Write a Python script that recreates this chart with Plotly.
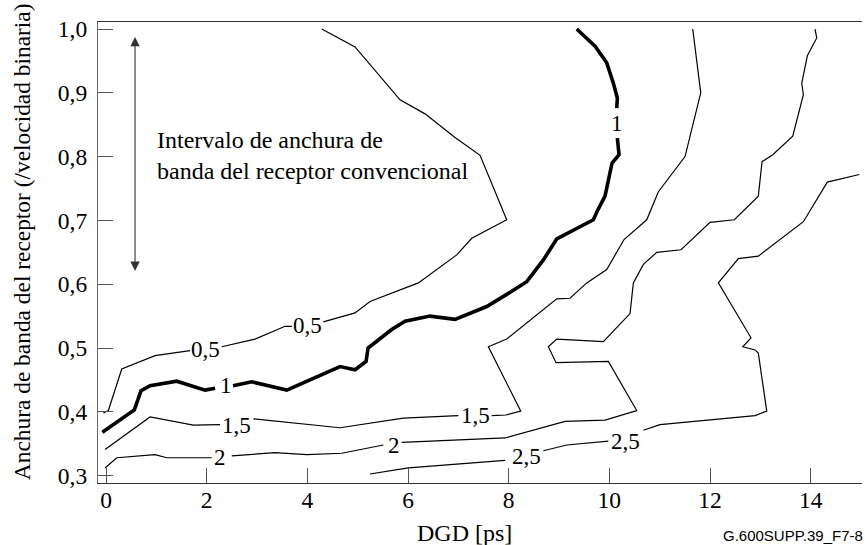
import plotly.graph_objects as go

# Contour lines (DGD [ps], receiver bandwidth); None = gap where the label sits
c05_x = [-0.054, 0.046, 0.312, 0.974, 1.669, None, 2.299, 2.960, 3.557, 3.696, None, 4.317, 4.947, 5.245, 6.205, 6.968, 7.266, 7.961, 7.431, 6.934, 6.338, 5.841, 4.947, 4.286]
c05_y = [0.398, 0.402, 0.467, 0.488, 0.496, None, 0.502, 0.514, 0.534, 0.534, None, 0.541, 0.555, 0.573, 0.602, 0.646, 0.672, 0.701, 0.802, 0.830, 0.867, 0.889, 0.972, 1.0]

c1_x = [-0.074, 0.562, 0.695, 0.874, 1.405, 1.967, 2.166, None, 2.523, 2.895, 3.590, 4.649, 4.947, 5.166, 5.206, 5.676, 5.941, 6.437, 6.934, 7.564, 7.961, 8.359, 8.689, 8.955, 9.682, 9.756, 9.914, 10.054, 10.193, 10.159, None, 10.147, 10.159, 10.080, 9.948, 9.716, 9.352]
c1_y = [0.368, 0.403, 0.433, 0.441, 0.448, 0.434, 0.437, None, 0.441, 0.447, 0.434, 0.471, 0.466, 0.479, 0.500, 0.529, 0.542, 0.550, 0.545, 0.565, 0.584, 0.604, 0.638, 0.671, 0.701, 0.714, 0.738, 0.790, 0.803, 0.829, None, 0.876, 0.892, 0.915, 0.947, 0.973, 1.0]

c15_x = [-0.020, 0.874, 1.735, 2.265, None, 2.927, 4.649, 5.907, 7.000, None, 7.663, 7.947, 8.240, 7.596, 7.961, 8.955, 9.219, 9.551, 9.948, 10.292, 10.743, 10.974, 11.504, 11.604, 11.816, 11.657]
c15_y = [0.341, 0.392, 0.379, 0.380, None, 0.389, 0.375, 0.390, 0.394, None, 0.394, 0.395, 0.401, 0.502, 0.514, 0.577, 0.578, 0.602, 0.623, 0.670, 0.701, 0.745, 0.800, 0.832, 0.900, 1.0]

c2_x = [-0.020, 0.213, 0.974, 1.206, 2.100, None, 2.498, 3.358, 3.988, 4.683, 5.510, None, 5.875, 6.702, 7.928, 9.120, 9.914, 10.544, 9.980, 8.941, 8.788, 8.955, 9.881, 10.411, 10.477, 10.676, 10.942, 11.425, 12.001, 12.484, 12.960, 13.034, 13.247, 13.644, 13.855, 13.823, 13.934, 14.121, 14.087]
c2_y = [0.312, 0.328, 0.333, 0.328, 0.328, None, 0.331, 0.336, 0.333, 0.335, 0.348, None, 0.352, 0.355, 0.359, 0.385, 0.387, 0.402, 0.479, 0.477, 0.502, 0.514, 0.510, 0.554, 0.602, 0.631, 0.650, 0.654, 0.697, 0.701, 0.738, 0.792, 0.803, 0.832, 0.897, 0.915, 0.958, 0.986, 1.0]

c25_x = [5.245, 6.006, 7.928, None, 8.689, 9.154, 9.980, None, 10.676, 11.007, 12.895, 12.994, 13.127, 12.960, 12.895, 12.650, 12.815, 12.166, 12.563, 12.960, 13.855, 14.331, 14.967]
c25_y = [0.3025, 0.312, 0.324, None, 0.339, 0.348, 0.354, None, 0.371, 0.380, 0.394, 0.397, 0.401, 0.492, 0.497, 0.502, 0.516, 0.602, 0.640, 0.644, 0.698, 0.760, 0.772]

# Contour labels
lbl_text = ["0,5", "0,5", "1", "1", "1,5", "1,5", "2", "2", "2,5", "2,5"]
lbl_x = [1.984, 4.0, 2.374, 10.147, 2.593, 7.332, 2.265, 5.712, 8.345, 10.33]
lbl_y = [0.497, 0.536, 0.441, 0.852, 0.379, 0.394, 0.328, 0.347, 0.330, 0.354]

x_ticks = [0, 2, 4, 6, 8, 10, 12, 14]
y_ticks = [0.3, 0.4, 0.5, 0.6, 0.7, 0.8, 0.9, 1.0]

# Conventional receiver bandwidth interval arrow
range_x = 0.576
range_y = [0.6185, 0.9875]

SERIF = "Liberation Serif"

fig = go.Figure()
for xs, ys, w in [(c05_x, c05_y, 1.2), (c1_x, c1_y, 3.6), (c15_x, c15_y, 1.2),
                  (c2_x, c2_y, 1.2), (c25_x, c25_y, 1.2)]:
    fig.add_trace(go.Scatter(x=xs, y=ys, mode="lines", connectgaps=False,
                             line=dict(color="black", width=w), hoverinfo="skip",
                             showlegend=False))

for t, x, y in zip(lbl_text, lbl_x, lbl_y):
    fig.add_annotation(x=x, y=y, text=t, showarrow=False, xref="x", yref="y",
                       font=dict(family=SERIF, size=23, color="black"),
                       xanchor="center", yanchor="middle")

fig.add_annotation(x=range_x, y=range_y[1], ax=range_x, ay=range_y[0],
                   xref="x", yref="y", axref="x", ayref="y", text="",
                   showarrow=True, arrowside="end+start", arrowhead=2,
                   startarrowhead=2, arrowsize=1.7, startarrowsize=1.7,
                   arrowwidth=1.1, arrowcolor="#333", standoff=0, startstandoff=0)

fig.add_annotation(x=0.974, y=0.802, xref="x", yref="y",
                   text="Intervalo de anchura de<br>banda del receptor convencional",
                   showarrow=False, xanchor="left", yanchor="middle", align="left",
                   font=dict(family=SERIF, size=24, color="black"))

fig.add_annotation(x=0.48, y=-0.108, xref="paper", yref="paper", text="DGD [ps]",
                   showarrow=False, xanchor="center", yanchor="middle",
                   font=dict(family=SERIF, size=24, color="black"))
fig.add_annotation(x=-0.0995, y=0.5245, xref="paper", yref="paper",
                   text="Anchura de banda del receptor (/velocidad binaria)",
                   textangle=-90, showarrow=False, xanchor="center", yanchor="middle",
                   font=dict(family=SERIF, size=23.4, color="black"))
fig.add_annotation(x=1.004, y=-0.113, xref="paper", yref="paper", text="G.600SUPP.39_F7-8",
                   showarrow=False, xanchor="right", yanchor="middle",
                   font=dict(family="Liberation Sans", size=15, color="black"))

fig.update_layout(
    width=865, height=545,
    margin=dict(l=98, r=3, t=22, b=62),
    paper_bgcolor="white", plot_bgcolor="white",
    separators=",.",
    showlegend=False,
)
fig.update_xaxes(range=[-0.16, 15.02], tickvals=x_ticks, ticks="inside", ticklen=15,
                 tickcolor="#555", tickwidth=1, showline=True, linecolor="#333",
                 linewidth=1.2, mirror=True, showgrid=False, zeroline=False,
                 tickfont=dict(family=SERIF, size=23.5, color="black"),
                 ticklabelstandoff=-4)
fig.update_yaxes(range=[0.2884, 1.011], tickvals=y_ticks, tickformat=".1f",
                 ticks="inside", ticklen=15, tickcolor="#555", tickwidth=1,
                 showline=True, linecolor="#666", linewidth=1.2, mirror=False,
                 showgrid=False, zeroline=False,
                 tickfont=dict(family=SERIF, size=23.5, color="black"),
                 ticklabelstandoff=5)

fig.write_html("out.html", config={"displayModeBar": False},
               post_script="document.body.style.margin='0';document.body.style.padding='0';")
